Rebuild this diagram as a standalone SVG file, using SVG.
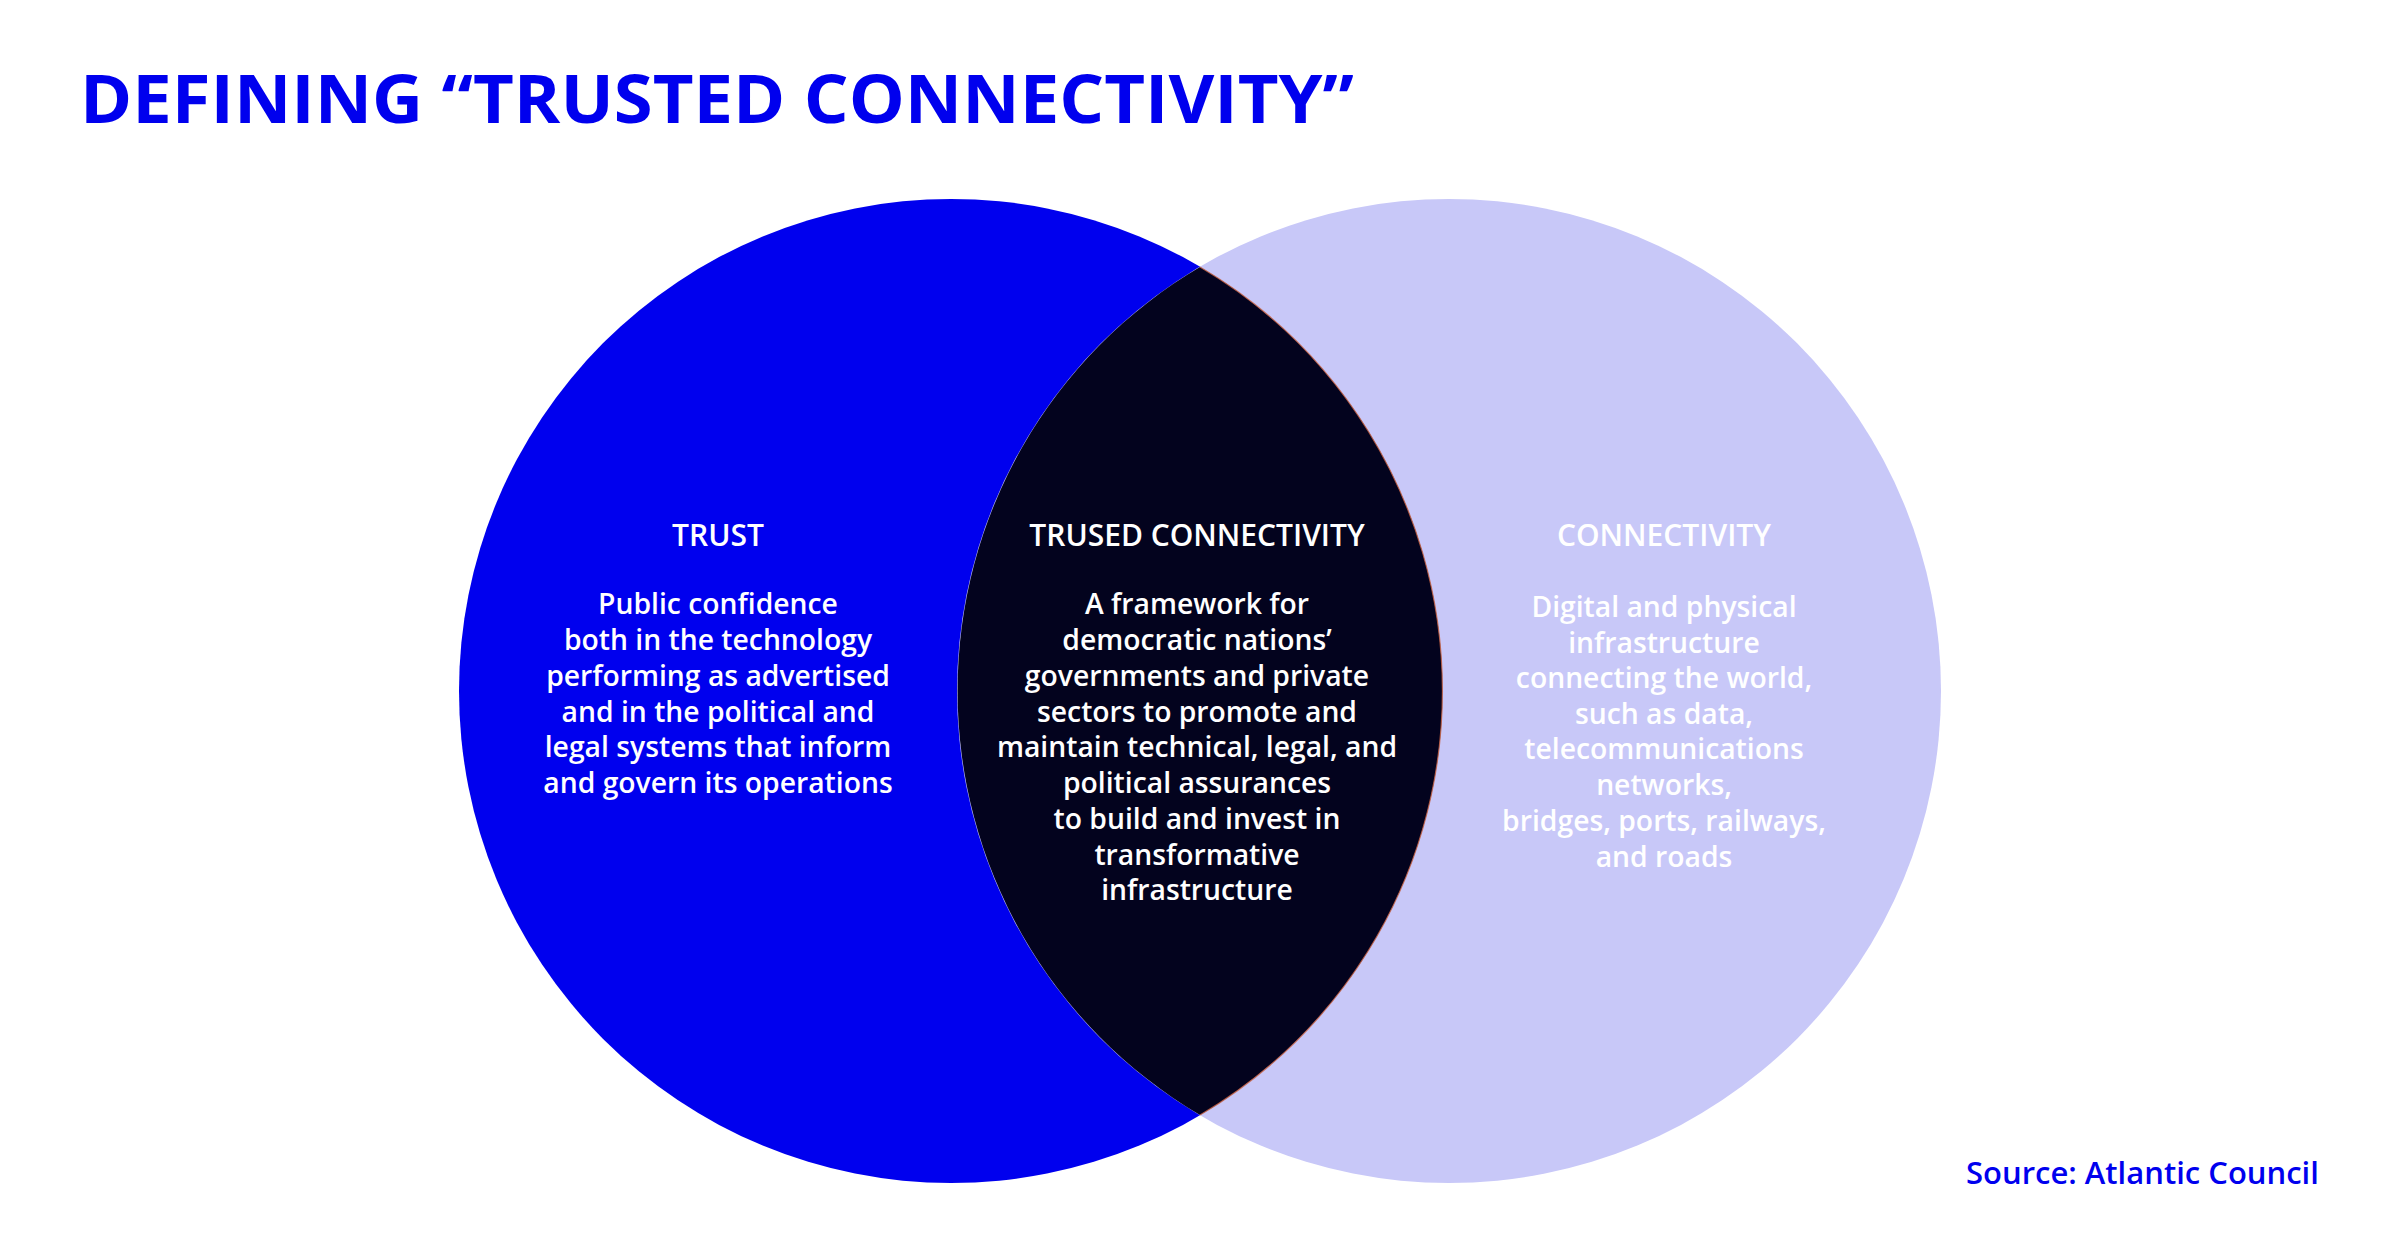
<svg xmlns="http://www.w3.org/2000/svg" width="2400" height="1256" viewBox="0 0 2400 1256">
<style>
.title{font-family:"Open Sans","Liberation Sans",sans-serif;font-weight:700;font-size:66px;fill:#0000EE}
.head{font-family:"Open Sans","Liberation Sans",sans-serif;font-weight:600;font-size:30px;fill:#FFFFFF;text-anchor:middle}
.body{font-family:"Open Sans","Liberation Sans",sans-serif;font-weight:600;font-size:28.3px;fill:#FFFFFF;text-anchor:middle}
.src{font-family:"Open Sans","Liberation Sans",sans-serif;font-weight:600;font-size:31px;fill:#0000EE}
</style>
<rect width="2400" height="1256" fill="#FFFFFF"/>
<text class="title" x="80" y="123" textLength="1274" lengthAdjust="spacingAndGlyphs">DEFINING “TRUSTED CONNECTIVITY”</text>
<g id="trust">
<circle cx="951" cy="691" r="492" fill="#0000EE"/>
</g>
<g id="connectivity">
<circle cx="1449" cy="691" r="492" fill="#C8C8F8"/>
</g>
<g id="trusted-connectivity">
<path d="M1200,267 A492,492 0 0,0 1200,1115 A492,492 0 0,0 1200,267 Z" fill="#03031E"/>
<path d="M1200,1115 A492,492 0 0,0 1200,267" fill="none" stroke="#C86040" stroke-width="1.2" stroke-opacity="0.8"/>
</g>
<g id="trust-text">
<text class="head" x="718" y="546">TRUST</text>
<text class="body" x="718" y="614">Public confidence</text>
<text class="body" x="718" y="650">both in the technology</text>
<text class="body" x="718" y="686">performing as advertised</text>
<text class="body" x="718" y="722">and in the political and</text>
<text class="body" x="718" y="757">legal systems that inform</text>
<text class="body" x="718" y="793">and govern its operations</text>
</g>
<g id="trusted-connectivity-text">
<text class="head" x="1197" y="546">TRUSED CONNECTIVITY</text>
<text class="body" x="1197" y="614">A framework for</text>
<text class="body" x="1197" y="650">democratic nations’</text>
<text class="body" x="1197" y="686">governments and private</text>
<text class="body" x="1197" y="722">sectors to promote and</text>
<text class="body" x="1197" y="757">maintain technical, legal, and</text>
<text class="body" x="1197" y="793">political assurances</text>
<text class="body" x="1197" y="829">to build and invest in</text>
<text class="body" x="1197" y="865">transformative</text>
<text class="body" x="1197" y="900">infrastructure</text>
</g>
<g id="connectivity-text">
<text class="head" x="1664" y="546">CONNECTIVITY</text>
<text class="body" x="1664" y="617">Digital and physical</text>
<text class="body" x="1664" y="653">infrastructure</text>
<text class="body" x="1664" y="688">connecting the world,</text>
<text class="body" x="1664" y="724">such as data,</text>
<text class="body" x="1664" y="759">telecommunications</text>
<text class="body" x="1664" y="795">networks,</text>
<text class="body" x="1664" y="831">bridges, ports, railways,</text>
<text class="body" x="1664" y="867">and roads</text>
</g>
<g id="connectors"></g>
<text class="src" x="1966" y="1184">Source: Atlantic Council</text>
</svg>
